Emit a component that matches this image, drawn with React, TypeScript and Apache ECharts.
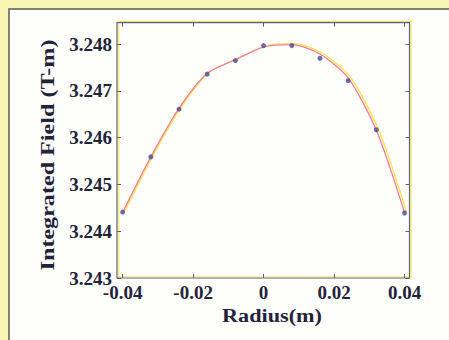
import React, { useEffect, useRef } from "react";
import * as echarts from "echarts";

const radius = [-0.04, -0.032, -0.024, -0.016, -0.008, 0, 0.008, 0.016, 0.024, 0.032, 0.04];
const measuredField = [3.24441, 3.24559, 3.24661, 3.24736, 3.24765, 3.24797, 3.24797, 3.2477, 3.24722, 3.24617, 3.24439];
const fittedField = [3.2444, 3.24559, 3.24663, 3.24738, 3.24767, 3.24794, 3.24799, 3.24779, 3.24728, 3.24616, 3.2444];
const xTicks = [-0.04, -0.02, 0, 0.02, 0.04];
const yTicks = [3.243, 3.244, 3.245, 3.246, 3.247, 3.248];

const AXIS = "#5e5e80";
const TXT = "#23233a";
const YEL = "#f3e640";
const FONT = "Liberation Serif";

export default function App() {
  const ref = useRef<HTMLDivElement>(null);
  useEffect(() => {
    if (!ref.current) return;
    const chart = echarts.init(ref.current, undefined, { renderer: "svg" });
    const label = {
      fontFamily: FONT,
      fontWeight: "bold" as const,
      fontSize: 19,
      color: TXT,
      textShadowColor: YEL,
      textShadowOffsetX: 1.5,
      textShadowOffsetY: -0.5,
      textShadowBlur: 0,
    };
    const tick = { show: true, inside: true, length: 4, lineStyle: { color: AXIS } };
    const noLine = { show: false, onZero: false };
    const xMin = -0.0416, xMax = 0.0414, yMin = 3.243, yMax = 3.24846;
    const option: any = {
      animation: false,
      graphic: [
        {
          type: "rect",
          z: -100,
          silent: true,
          shape: { x: 9, y: 9, width: 460, height: 350 },
          style: { fill: "#fefefb", stroke: "#55604e", lineWidth: 1.5 },
        },
        {
          type: "text",
          x: 48,
          y: 155,
          rotation: Math.PI / 2,
          scaleX: 1.27,
          style: {
            text: "Integrated Field (T-m)",
            fontFamily: FONT,
            fontWeight: "bold",
            fontSize: 19,
            fill: TXT,
            align: "center",
            verticalAlign: "middle",
            textShadowColor: YEL,
            textShadowOffsetX: 1,
            textShadowOffsetY: -1,
          },
        },
        {
          type: "text",
          x: 272,
          y: 316,
          scaleX: 1.17,
          style: {
            text: "Radius(m)",
            fontFamily: FONT,
            fontWeight: "bold",
            fontSize: 19,
            fill: TXT,
            align: "center",
            verticalAlign: "middle",
            textShadowColor: YEL,
            textShadowOffsetX: 1.5,
            textShadowOffsetY: -0.5,
          },
        },
      ],
      grid: {
        left: 117,
        right: 39.5,
        top: 22.7,
        bottom: 62,
        outerBoundsMode: "none",
        show: true,
        backgroundColor: "transparent",
        borderColor: AXIS,
        borderWidth: 1.2,
        shadowColor: YEL,
        shadowOffsetX: 1.5,
        shadowOffsetY: -1,
        shadowBlur: 0,
      },
      xAxis: [
        {
          type: "value",
          position: "bottom",
          min: xMin,
          max: xMax,
          axisLine: noLine,
          axisTick: { ...tick, customValues: xTicks },
          axisLabel: { ...label, margin: 5, customValues: xTicks, formatter: (v: number) => String(v) },
          splitLine: { show: false },
        },
        {
          type: "value",
          position: "top",
          min: xMin,
          max: xMax,
          axisLine: noLine,
          axisTick: { ...tick, customValues: xTicks },
          axisLabel: { show: false },
          splitLine: { show: false },
        },
      ],
      yAxis: [
        {
          type: "value",
          position: "left",
          min: yMin,
          max: yMax,
          axisLine: noLine,
          axisTick: { ...tick, customValues: yTicks },
          axisLabel: { ...label, margin: 5, customValues: yTicks, formatter: (v: number) => v.toFixed(3) },
          splitLine: { show: false },
        },
        {
          type: "value",
          position: "right",
          min: yMin,
          max: yMax,
          axisLine: noLine,
          axisTick: { ...tick, customValues: yTicks },
          axisLabel: { show: false },
          splitLine: { show: false },
        },
      ],
      series: [
        {
          type: "line",
          xAxisIndex: 0,
          yAxisIndex: 0,
          data: radius.map((x, i) => [x, fittedField[i]]),
          showSymbol: false,
          smooth: 0.25,
          lineStyle: { color: "#f27a9e", width: 1.3, shadowColor: YEL, shadowOffsetX: 2, shadowOffsetY: -1, shadowBlur: 0 },
          z: 2,
        },
        {
          type: "scatter",
          xAxisIndex: 0,
          yAxisIndex: 0,
          data: radius.map((x, i) => [x, measuredField[i]]),
          symbol: "circle",
          symbolSize: 5,
          itemStyle: { color: "#4a4790" },
          z: 3,
        },
      ],
    };
    chart.setOption(option);
    return () => chart.dispose();
  }, []);
  return (
    <div
      ref={ref}
      style={{ position: "absolute", left: 0, top: 0, width: 449, height: 340, background: "#f9f5b5" }}
    />
  );
}
